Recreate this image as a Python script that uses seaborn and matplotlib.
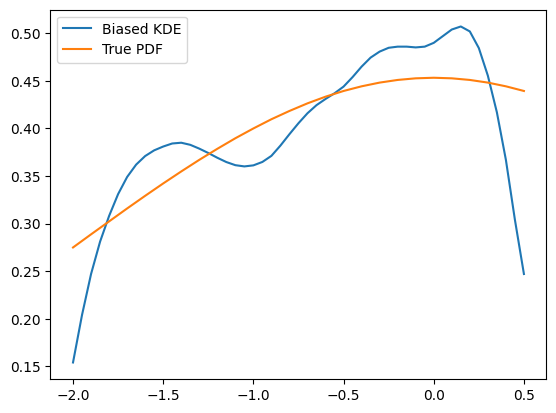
import numpy as np
import seaborn as sns
import matplotlib
matplotlib.use("Agg")
import matplotlib.pyplot as plt

# values
kde_x = [-2.00, -1.95, -1.90, -1.85, -1.80, -1.75, -1.70, -1.65, -1.60, -1.55,
         -1.50, -1.45, -1.40, -1.35, -1.30, -1.25, -1.20, -1.15, -1.10, -1.05,
         -1.00, -0.95, -0.90, -0.85, -0.80, -0.75, -0.70, -0.65, -0.60, -0.55,
         -0.50, -0.45, -0.40, -0.35, -0.30, -0.25, -0.20, -0.15, -0.10, -0.05,
         0.00, 0.05, 0.10, 0.15, 0.20, 0.25, 0.30, 0.35, 0.40, 0.45, 0.50]
kde_y = [0.154, 0.204, 0.247, 0.281, 0.308, 0.331, 0.349, 0.362, 0.371, 0.377,
         0.381, 0.3842, 0.3850, 0.3828, 0.3788, 0.3742, 0.3692, 0.3647, 0.3614, 0.3601,
         0.3612, 0.3648, 0.3712, 0.3820, 0.3940, 0.4055, 0.4160, 0.4245, 0.4310, 0.4370,
         0.4440, 0.4540, 0.4650, 0.4745, 0.4808, 0.4848, 0.4860, 0.4860, 0.4852, 0.4860,
         0.4900, 0.4970, 0.5040, 0.5072, 0.5020, 0.4845, 0.4555, 0.4170, 0.3670, 0.3040,
         0.2470]

pdf_x = [-2.0, -1.9, -1.8, -1.7, -1.6, -1.5, -1.4, -1.3, -1.2, -1.1, -1.0,
         -0.9, -0.8, -0.7, -0.6, -0.5, -0.4, -0.3, -0.2, -0.1, 0.0,
         0.1, 0.2, 0.3, 0.4, 0.5]
pdf_y = [0.2749, 0.2887, 0.3023, 0.3159, 0.3292, 0.3422, 0.3548, 0.3670,
         0.3786, 0.3897, 0.4000, 0.4097, 0.4184, 0.4264, 0.4334, 0.4394,
         0.4443, 0.4482, 0.4510, 0.4527, 0.4533, 0.4527, 0.4510, 0.4482,
         0.4443, 0.4394]

fig, ax = plt.subplots(figsize=(6.4, 4.8), dpi=100)
sns.lineplot(x=kde_x, y=kde_y, label="Biased KDE", color="tab:blue", ax=ax)
sns.lineplot(x=pdf_x, y=pdf_y, label="True PDF", color="tab:orange", ax=ax)
ax.legend(loc="upper left")
plt.savefig("out.png", dpi=100, bbox_inches="tight")
